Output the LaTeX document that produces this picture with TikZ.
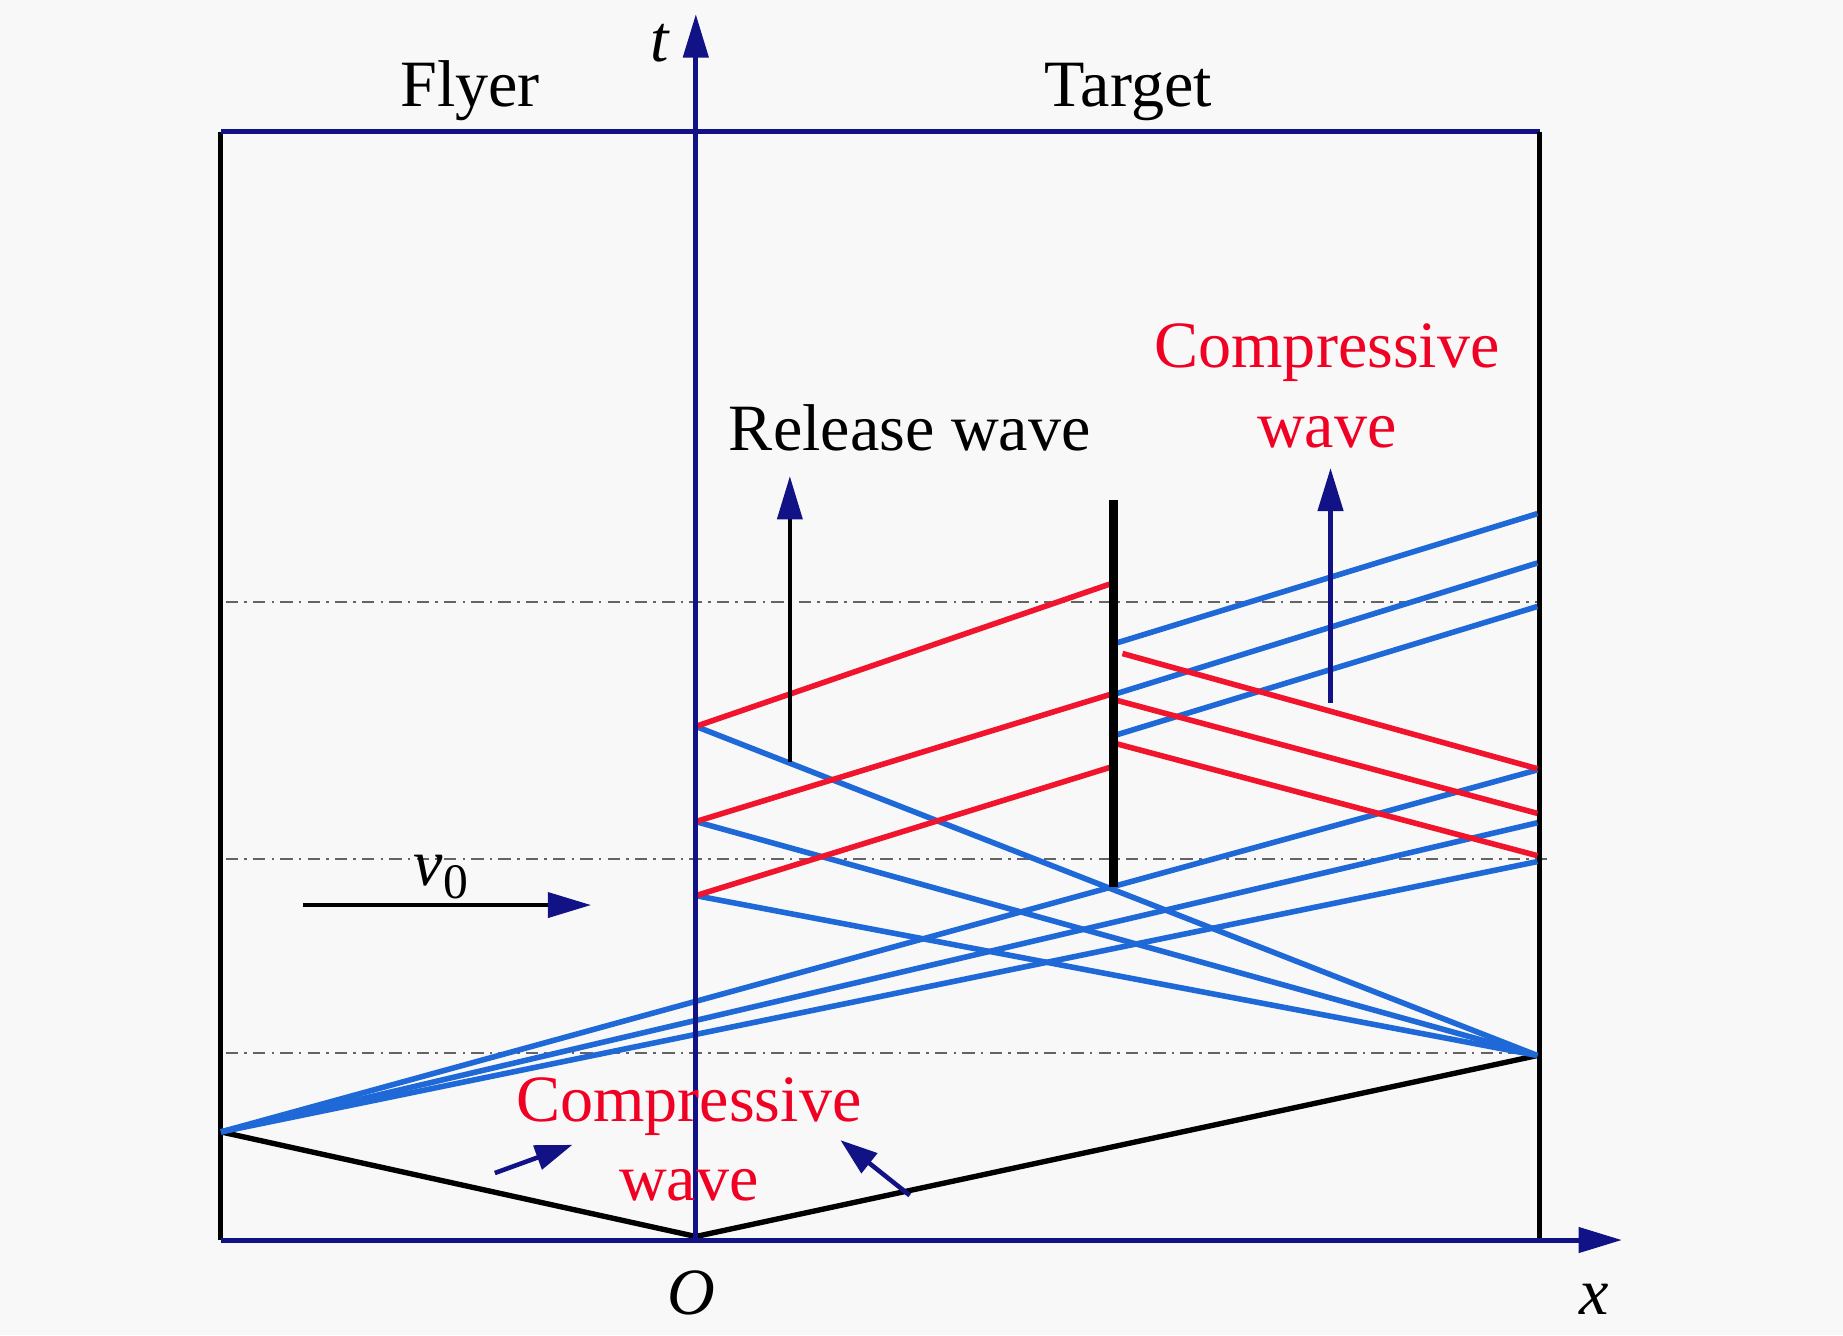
\documentclass[tikz,border=0pt]{standalone}
\usepackage{fontspec}
\setmainfont{Liberation Serif}
\usetikzlibrary{arrows.meta}
\definecolor{axisblue}{RGB}{18,18,135}
\definecolor{waveblue}{RGB}{30,105,215}
\definecolor{wavered}{RGB}{240,20,45}
\definecolor{txtred}{RGB}{240,0,35}
\definecolor{bggray}{RGB}{248,248,248}
\definecolor{dashgray}{RGB}{100,100,100}
\begin{document}
\begin{tikzpicture}[x=0.01cm,y=-0.01cm,
  lbl/.style={font=\fontsize{16}{19}\selectfont, inner sep=0pt, anchor=base},
  redlbl/.style={lbl, text=txtred},
  tipnavy/.style={-{Triangle[length=10.5pt,width=6pt,color=axisblue]}},
  axisline/.style={draw=axisblue, line width=1.2pt, tipnavy},
  frame/.style={draw=black, line width=1.2pt},
  bluewave/.style={draw=waveblue, line width=1.35pt},
  redwave/.style={draw=wavered, line width=1.35pt},
  shock/.style={draw=black, line width=1.3pt},
  dashdot/.style={draw=dashgray, line width=0.55pt, dash pattern=on 3pt off 1.5pt on 0.6pt off 1.5pt},
  bar/.style={draw=black, line width=2.2pt}]
\useasboundingbox[fill=bggray] (0,0) rectangle (1568,1136);

% ---- reference points
\coordinate (TL) at (188,112);
\coordinate (TR) at (1310,112);
\coordinate (BL) at (188,1055);
\coordinate (BR) at (1310,1055);
\coordinate (O) at (592,1055);
\coordinate (Ttip) at (592,12);
\coordinate (Xtip) at (1380,1055);

% ---- dash-dot time levels
\coordinate (d1a) at (192,512); \coordinate (d1b) at (1310,512);
\coordinate (d2a) at (192,731); \coordinate (d2b) at (1316,731);
\coordinate (d3a) at (192,896); \coordinate (d3b) at (1306,896);
\draw[dashdot] (d1a) -- (d1b);
\draw[dashdot] (d2a) -- (d2b);
\draw[dashdot] (d3a) -- (d3b);

% ---- frame
\draw[frame] (BL) -- (TL);
\draw[draw=axisblue, line width=1.2pt] (TL) -- (TR);
\draw[frame] (TR) -- (BR);

% ---- shock fronts
\coordinate (L) at (188,963);
\coordinate (Oi) at (592,1052);
\coordinate (R) at (1308,898);
\draw[shock] (L) -- (Oi) -- (R);

% ---- waves from the left impact point
\coordinate (r1) at (1308,655);
\coordinate (r2) at (1308,700);
\coordinate (r3) at (1308,733);
\draw[bluewave] (L) -- (r1);
\draw[bluewave] (L) -- (r2);
\draw[bluewave] (L) -- (r3);

% ---- waves from the right rear point to the interface
\coordinate (a1) at (592,618);
\coordinate (a2) at (592,699);
\coordinate (a3) at (592,762);
\draw[bluewave] (R) -- (a1);
\draw[bluewave] (R) -- (a2);
\draw[bluewave] (R) -- (a3);

% ---- red waves from interface to the bar
\coordinate (b1) at (944,497);
\coordinate (b2) at (944,591);
\coordinate (b3) at (944,653);
\draw[redwave] (a1) -- (b1);
\draw[redwave] (a2) -- (b2);
\draw[redwave] (a3) -- (b3);

% ---- waves beyond the bar
\coordinate (c1) at (950,547); \coordinate (e1) at (1308,437);
\coordinate (c2) at (947,591); \coordinate (e2) at (1308,479);
\coordinate (c3) at (944,627); \coordinate (e3) at (1308,516);
\draw[bluewave] (c1) -- (e1);
\draw[bluewave] (c2) -- (e2);
\draw[bluewave] (c3) -- (e3);
\coordinate (f1) at (955,556); \coordinate (g1) at (1308,654);
\coordinate (f2) at (947,595); \coordinate (g2) at (1308,692);
\coordinate (f3) at (947,632); \coordinate (g3) at (1308,728);
\draw[redwave] (f1) -- (g1);
\draw[redwave] (f2) -- (g2);
\draw[redwave] (f3) -- (g3);

% ---- thick bar
\coordinate (barT) at (947,425);
\coordinate (barB) at (947,755);
\draw[bar] (barB) -- (barT);

% ---- axes
\draw[axisline] (O) -- (Ttip);
\draw[axisline] (BL) -- (Xtip);

% ---- indicator arrows
\coordinate (rwA) at (672,648); \coordinate (rwB) at (672,405);
\draw[draw=black, line width=1.1pt, tipnavy] (rwA) -- (rwB);
\coordinate (cwA) at (1132,598); \coordinate (cwB) at (1132,398);
\draw[draw=axisblue, line width=1.3pt, tipnavy] (cwA) -- (cwB);
\coordinate (vA) at (258,770); \coordinate (vB) at (503,770);
\draw[draw=black, line width=1.1pt, tipnavy] (vA) -- (vB);
\coordinate (p1A) at (421,998); \coordinate (p1B) at (487,974);
\draw[draw=axisblue, line width=1.1pt, -{Triangle[length=9pt,width=6pt,color=axisblue]}] (p1A) -- (p1B);
\coordinate (p2A) at (774,1017); \coordinate (p2B) at (715,970);
\draw[draw=axisblue, line width=1.1pt, -{Triangle[length=9pt,width=6pt,color=axisblue]}] (p2A) -- (p2B);

% ---- labels
\node[lbl] (tlab) at (562,52) {\textit{t}};
\node[lbl] (flyer) at (400,91) {Flyer};
\node[lbl] (target) at (960,91) {Target};
\node[lbl] (release) at (774,383) {Release wave};
\node[redlbl] (comp1) at (1129,313) {Compressive};
\node[redlbl] (wave1) at (1129,381) {wave};
\node[redlbl] (comp2) at (586,954) {Compressive};
\node[redlbl] (wave2) at (586,1021) {wave};
\node[lbl] (olab) at (588,1118) {\textit{O}};
\node[lbl] (xlab) at (1356,1118) {\textit{x}};
\node[lbl] (vlab) at (375,753) {\textit{v}\raisebox{-0.45ex}{\fontsize{12}{14}\selectfont 0}};
\end{tikzpicture}
\end{document}
